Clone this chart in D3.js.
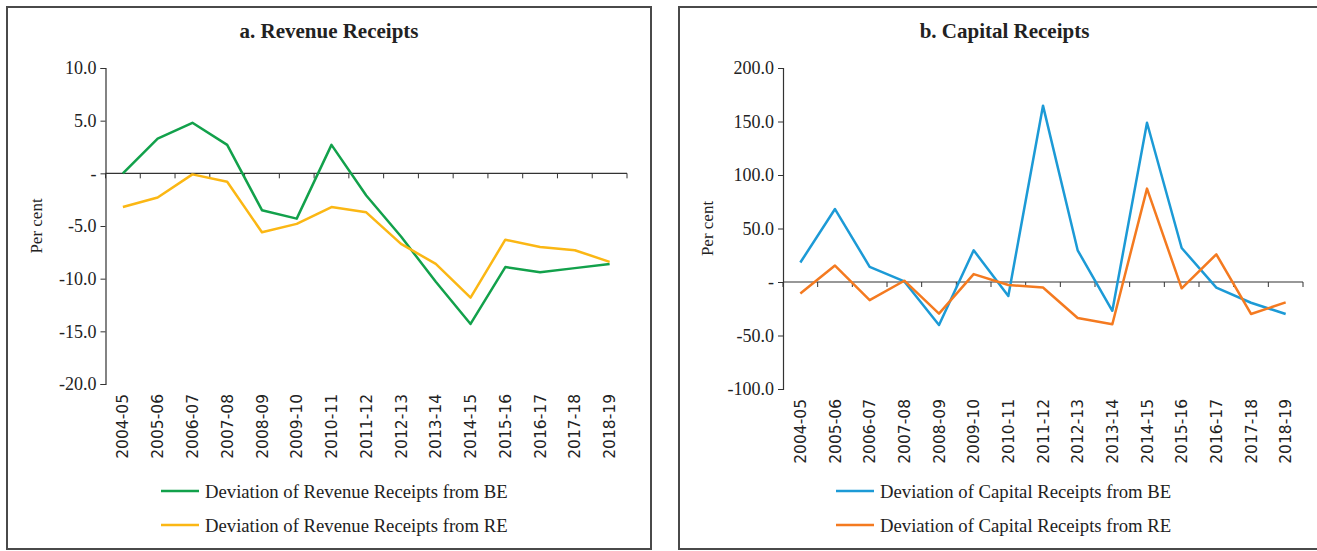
<!DOCTYPE html>
<html>
<head>
<meta charset="utf-8">
<script src="https://cdn.jsdelivr.net/npm/d3@7"></script>
<style>
  body { margin: 0; background: #fff; }
  svg { display: block; }
  .tick text { fill: #222; }
</style>
</head>
<body>
<div id="chart"></div>
<script>
// years on the x axis (same for both panels)
const years = ["2004-05","2005-06","2006-07","2007-08","2008-09","2009-10","2010-11","2011-12",
  "2012-13","2013-14","2014-15","2015-16","2016-17","2017-18","2018-19"];

// panel a: revenue receipts, per cent deviation
const revenueBE = [0.0, 3.3, 4.8, 2.7, -3.5, -4.3, 2.7, -2.1, -6.0, -10.3, -14.3, -8.9, -9.4, -9.0, -8.6];
const revenueRE = [-3.2, -2.3, -0.1, -0.8, -5.6, -4.8, -3.2, -3.7, -6.7, -8.6, -11.8, -6.3, -7.0, -7.3, -8.4];

// panel b: capital receipts, per cent deviation
const capitalBE = [18.2, 68.2, 14.2, 0.5, -40.1, 29.6, -13.0, 164.8, 29.6, -26.9, 148.8, 31.8, -5.2, -19.4, -29.9];
const capitalRE = [-10.8, 15.4, -17.0, 1.2, -29.6, 7.4, -2.8, -5.2, -33.6, -39.5, 87.3, -5.9, 25.9, -29.9, -19.1];

const revenueTicks = [10, 5, 0, -5, -10, -15, -20];
const capitalTicks = [200, 150, 100, 50, 0, -50, -100];

const W = 1317, H = 551;
const serif = "'Liberation Serif', 'DejaVu Serif', serif";
const sans = "'DejaVu Sans', sans-serif";

const svg = d3.select("#chart").append("svg")
  .attr("width", W)
  .attr("height", H);

function panel(opt) {
  const g = svg.append("g");

  // frame
  g.append("rect")
    .attr("x", opt.box[0]).attr("y", 7)
    .attr("width", opt.box[1] - opt.box[0]).attr("height", 542)
    .attr("fill", "none").attr("stroke", "#4a4a4a").attr("stroke-width", 2);

  g.append("text")
    .attr("x", (opt.box[0] + opt.box[1]) / 2).attr("y", 38)
    .attr("text-anchor", "middle")
    .style("font-family", serif).style("font-weight", "bold").style("font-size", "21px")
    .attr("fill", "#222")
    .text(opt.title);

  const x = d3.scaleBand().domain(years).range(opt.xr);
  const y = d3.scaleLinear().domain(opt.dom).range(opt.yr);

  // y axis
  const ya = g.append("g")
    .attr("transform", `translate(${opt.xr[0]},0)`)
    .call(d3.axisLeft(y).tickValues(opt.ticks).tickSize(5).tickPadding(4)
      .tickFormat(d => d === 0 ? "-" : d.toFixed(1)));
  ya.select(".domain").attr("stroke", "#333").attr("stroke-width", 1.2);
  ya.selectAll(".tick line").attr("stroke", "#333");
  ya.selectAll("text").style("font-family", serif).style("font-size", "18px");

  // x axis on the zero line, ticks at band edges
  const xa = g.append("g")
    .attr("transform", `translate(0,${y(0)})`);
  xa.append("line")
    .attr("x1", opt.xr[0]).attr("x2", opt.xr[1])
    .attr("stroke", "#333").attr("stroke-width", 1.2);
  xa.selectAll("line.tk")
    .data(years.concat(["end"]))
    .join("line")
    .attr("class", "tk")
    .attr("x1", (d, i) => opt.xr[0] + i * x.bandwidth())
    .attr("x2", (d, i) => opt.xr[0] + i * x.bandwidth())
    .attr("y1", 0).attr("y2", 5)
    .attr("stroke", "#333");

  // category labels below the plot
  g.selectAll("text.cat")
    .data(years)
    .join("text")
    .attr("class", "cat")
    .attr("transform", d => `translate(${x(d) + x.bandwidth() / 2},${opt.yr[0] + 10}) rotate(-90)`)
    .attr("text-anchor", "end")
    .attr("dy", "0.36em")
    .style("font-family", sans).style("font-size", "15.5px")
    .attr("fill", "#222")
    .text(d => d);

  g.append("text")
    .attr("transform", `translate(${opt.unitX},${(opt.yr[0] + opt.yr[1]) / 2}) rotate(-90)`)
    .attr("text-anchor", "middle")
    .style("font-family", serif).style("font-size", "17px")
    .attr("fill", "#222")
    .text("Per cent");

  const line = d3.line()
    .x((d, i) => x(years[i]) + x.bandwidth() / 2)
    .y(d => y(d));

  opt.series.forEach((s, k) => {
    g.append("path")
      .datum(s.values)
      .attr("d", line)
      .attr("fill", "none")
      .attr("stroke", s.color)
      .attr("stroke-width", 2.5)
      .attr("stroke-linejoin", "round");

    const ly = 491 + k * 34;
    g.append("line")
      .attr("x1", opt.legX).attr("x2", opt.legX + 38)
      .attr("y1", ly).attr("y2", ly)
      .attr("stroke", s.color).attr("stroke-width", 2.5);
    g.append("text")
      .attr("x", opt.legX + 44).attr("y", ly)
      .attr("dy", "0.35em")
      .style("font-family", serif).style("font-size", "18.7px")
      .attr("fill", "#222")
      .text(s.name);
  });
}

panel({
  title: "a. Revenue Receipts",
  box: [7, 651],
  xr: [105.5, 627],
  yr: [384, 68],
  dom: [-20, 10],
  ticks: revenueTicks,
  unitX: 42,
  legX: 161,
  series: [
    { name: "Deviation of Revenue Receipts from BE", values: revenueBE, color: "#12a14b" },
    { name: "Deviation of Revenue Receipts from RE", values: revenueRE, color: "#fbb714" }
  ]
});

panel({
  title: "b. Capital Receipts",
  box: [679, 1330],
  xr: [783, 1303],
  yr: [389, 68],
  dom: [-100, 200],
  ticks: capitalTicks,
  unitX: 713,
  legX: 836,
  series: [
    { name: "Deviation of Capital Receipts from BE", values: capitalBE, color: "#1c9ad6" },
    { name: "Deviation of Capital Receipts from RE", values: capitalRE, color: "#f47a20" }
  ]
});
</script>
</body>
</html>
